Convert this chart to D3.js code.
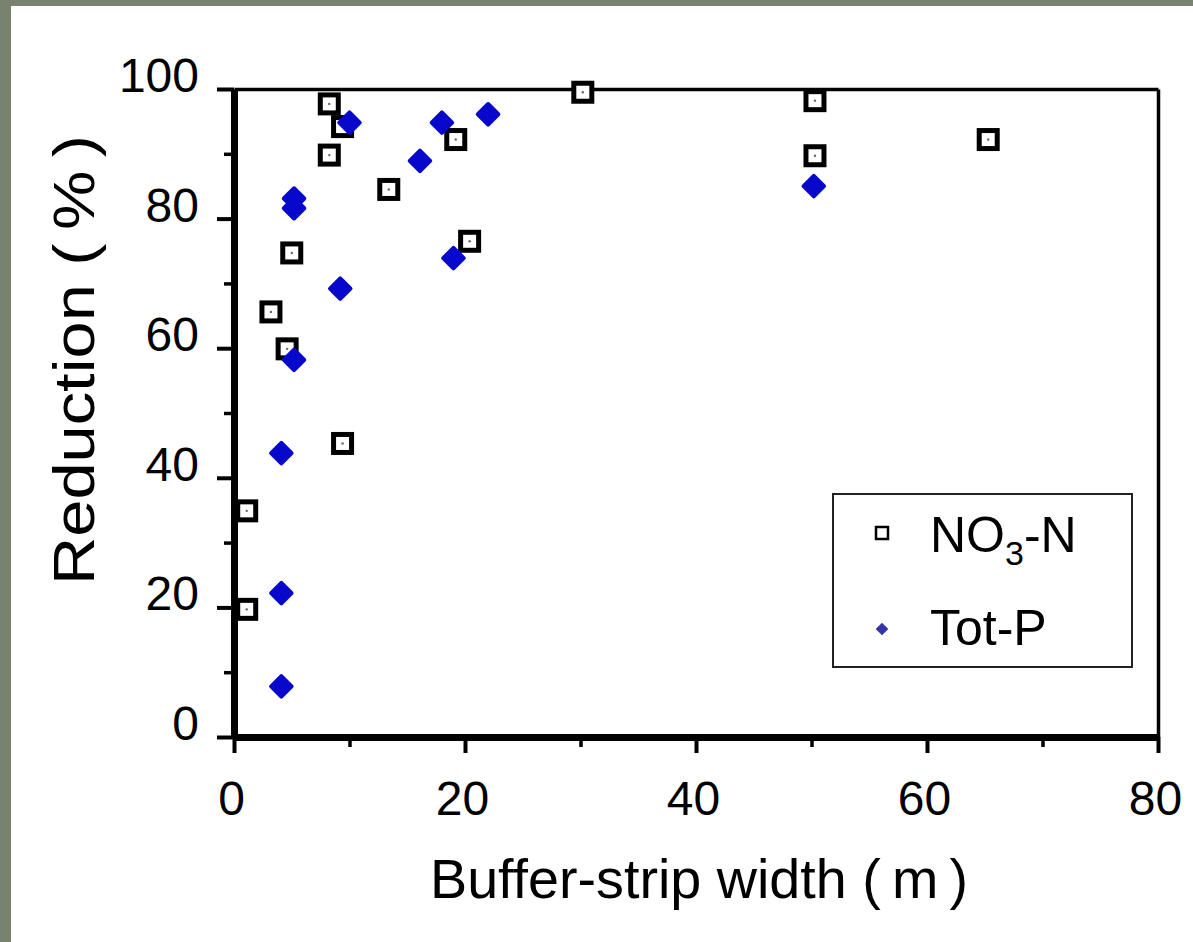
<!DOCTYPE html>
<html>
<head>
<meta charset="utf-8">
<script src="https://cdn.jsdelivr.net/npm/d3@7"></script>
<style>
  body { margin: 0; background: #78826e; }
  text { font-family: "Liberation Sans", Arial, sans-serif; fill: #000; }
</style>
</head>
<body>
<div id="chart"></div>
<script>
// NO3-N reduction vs buffer-strip width (squares)
const no3Width = [8.25, 9.4, 8.25, 13.4, 19.2, 20.4, 5.0, 3.2, 4.6, 9.4, 1.1, 1.1, 30.2, 50.3, 50.3, 65.3];
const no3Red   = [97.7, 94.2, 89.8, 84.5, 92.2, 76.5, 74.7, 65.6, 59.9, 45.3, 34.9, 19.7, 99.5, 98.2, 89.7, 92.2];

// Tot-P reduction vs buffer-strip width (diamonds)
const totPWidth = [10.0, 18.0, 22.0, 16.1, 5.2, 5.2, 19.0, 9.2, 5.2, 4.1, 4.1, 4.1, 50.2];
const totPRed   = [94.8, 94.8, 96.1, 88.9, 83.1, 81.6, 73.9, 69.2, 58.2, 43.8, 22.2, 7.8, 85.0];

const xTicks = [0, 20, 40, 60, 80];
const xMinor = [10, 30, 50, 70];
const yTicks = [0, 20, 40, 60, 80, 100];
const yMinor = [10, 30, 50, 70, 90];

const W = 1193, H = 942;

const svg = d3.select("#chart").append("svg")
    .attr("width", W)
    .attr("height", H);

// white panel on the grey-green slide background
svg.append("rect")
    .attr("x", 11).attr("y", 6)
    .attr("width", W - 11).attr("height", H - 6)
    .attr("fill", "#fff");

const x = d3.scaleLinear().domain([0, 80]).range([234, 1158]);
const y = d3.scaleLinear().domain([0, 100]).range([737, 89]);

// Top and right frame lines (thin)
svg.append("g")
    .attr("transform", `translate(0,${y(100)})`)
    .call(d3.axisTop(x).tickValues([]).tickSizeOuter(0))
    .call(g => g.select(".domain").attr("stroke-width", 3.5));
svg.append("g")
    .attr("transform", `translate(${x(80)},0)`)
    .call(d3.axisRight(y).tickValues([]).tickSizeOuter(0))
    .call(g => g.select(".domain").attr("stroke-width", 3.5));

// Minor ticks
svg.append("g")
    .attr("transform", `translate(${x(0)},0)`)
    .call(d3.axisLeft(y).tickValues(yMinor).tickSize(10).tickFormat(""))
    .call(g => g.select(".domain").remove())
    .call(g => g.selectAll("line").attr("stroke-width", 3.5));
svg.append("g")
    .attr("transform", `translate(0,${y(0)})`)
    .call(d3.axisBottom(x).tickValues(xMinor).tickSize(10).tickFormat(""))
    .call(g => g.select(".domain").remove())
    .call(g => g.selectAll("line").attr("stroke-width", 3.5));

// Left axis (thick)
svg.append("g")
    .attr("transform", `translate(${x(0)},0)`)
    .call(d3.axisLeft(y).tickValues(yTicks).tickSize(17).tickSizeOuter(0))
    .call(g => g.select(".domain").attr("stroke-width", 7))
    .call(g => g.selectAll(".tick line").attr("stroke-width", 4))
    .call(g => g.selectAll(".tick text")
        .attr("font-size", 48)
        .attr("font-family", "Liberation Sans, Arial, sans-serif")
        .attr("dy", "0.05em")
        .attr("x", -35));

// Bottom axis (thick)
svg.append("g")
    .attr("transform", `translate(0,${y(0)})`)
    .call(d3.axisBottom(x).tickValues(xTicks).tickSize(16).tickSizeOuter(0))
    .call(g => g.select(".domain").attr("stroke-width", 7))
    .call(g => g.selectAll(".tick line").attr("stroke-width", 4))
    .call(g => g.selectAll(".tick text")
        .attr("font-size", 48)
        .attr("font-family", "Liberation Sans, Arial, sans-serif")
        .attr("dy", 0)
        .attr("y", 78)
        .attr("dx", -3));

// Axis titles
svg.append("text")
    .attr("x", (x(0) + x(80)) / 2 + 3)
    .attr("y", 898)
    .attr("text-anchor", "middle")
    .attr("font-size", 56)
    .attr("textLength", 538)
    .attr("lengthAdjust", "spacingAndGlyphs")
    .text("Buffer-strip width (\u2009m\u2009)");

svg.append("text")
    .attr("transform", "translate(94,360) rotate(-90)")
    .attr("text-anchor", "middle")
    .attr("font-size", 57)
    .attr("textLength", 450)
    .attr("lengthAdjust", "spacingAndGlyphs")
    .text("Reduction (\u2009%\u2009)");

// NO3-N squares
const sq = svg.append("g").selectAll("g")
    .data(no3Width.map((w, i) => [w, no3Red[i]]))
    .enter().append("g")
    .attr("transform", d => `translate(${x(d[0])},${y(d[1])})`);
sq.append("rect")
    .attr("x", -9).attr("y", -9)
    .attr("width", 18).attr("height", 18)
    .attr("fill", "#fff")
    .attr("stroke", "#000")
    .attr("stroke-width", 5);
sq.append("circle")
    .attr("r", 1.2)
    .attr("fill", "#666");

// Tot-P diamonds
svg.append("g").selectAll("path")
    .data(totPWidth.map((w, i) => [w, totPRed[i]]))
    .enter().append("path")
    .attr("d", d3.symbol(d3.symbolSquare, 210))
    .attr("transform", d => `translate(${x(d[0])},${y(d[1])}) rotate(45)`)
    .attr("fill", "#0808cc")
    .attr("stroke", "#0808cc")
    .attr("stroke-width", 4)
    .attr("stroke-linejoin", "round");

// Legend
const legend = svg.append("g");
legend.append("rect")
    .attr("x", 833).attr("y", 494)
    .attr("width", 299).attr("height", 173)
    .attr("fill", "#fff")
    .attr("stroke", "#222")
    .attr("stroke-width", 2);
legend.append("rect")
    .attr("x", 876).attr("y", 527)
    .attr("width", 12).attr("height", 12)
    .attr("fill", "#fff")
    .attr("stroke", "#000")
    .attr("stroke-width", 2.5);
const t1 = legend.append("text")
    .attr("x", 930).attr("y", 552)
    .attr("font-size", 50);
t1.append("tspan").text("NO");
t1.append("tspan").attr("font-size", 34).attr("dy", 13).text("3");
t1.append("tspan").attr("dy", -13).text("-N");
legend.append("path")
    .attr("d", d3.symbol(d3.symbolSquare, 80))
    .attr("transform", "translate(882,629) rotate(45)")
    .attr("fill", "#3434a8");
legend.append("text")
    .attr("x", 930).attr("y", 645)
    .attr("font-size", 50)
    .text("Tot-P");
</script>
</body>
</html>
